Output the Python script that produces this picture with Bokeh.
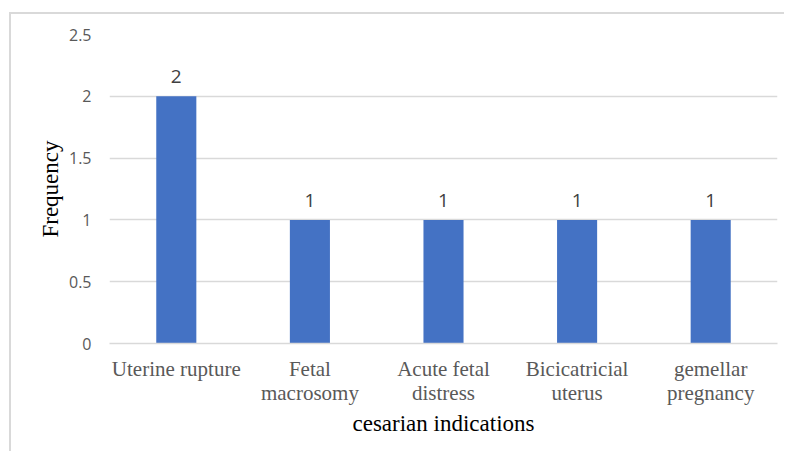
from bokeh.plotting import figure
from bokeh.models import ColumnDataSource, FactorRange, Range1d, FixedTicker
from bokeh.core.properties import value
from bokeh.embed import file_html
from bokeh.resources import INLINE

categories = ["Uterine rupture", "Fetal\nmacrosomy", "Acute fetal\ndistress",
              "Bicicatricial\nuterus", "gemellar\npregnancy"]
frequency = [2, 1, 1, 1, 1]
value_labels = ["2", "1", "1", "1", "1"]
y_ticks = [0, 0.5, 1, 1.5, 2, 2.5]
y_tick_labels = ["0", "0.5", "1", "1.5", "2", "2.5"]

src = ColumnDataSource(dict(cat=categories, freq=frequency, lab=value_labels))

p = figure(width=775, height=439, x_range=FactorRange(*categories, range_padding=0),
           y_range=Range1d(0, 2.5), output_backend="svg", toolbar_location=None,
           min_border_left=98, min_border_right=9, min_border_top=20, min_border_bottom=110,
           styles={"margin-left": "9px", "margin-top": "12px",
                   "border-left": "2px solid #d9d9d9", "border-top": "2px solid #d9d9d9"})
p.outline_line_color = None
p.background_fill_color = "white"
p.border_fill_color = "white"

p.vbar(x="cat", top="freq", width=0.3, source=src, fill_color="#4472C4", line_color=None)
p.text(x="cat", y="freq", text="lab", source=src, text_align="center", text_baseline="bottom",
       y_offset=-13, text_font=value("Open Sans"), text_font_size="19px", text_color="#404040")

p.xgrid.grid_line_color = None
p.ygrid.grid_line_color = "#d9d9d9"
p.ygrid.grid_line_width = 1.3
p.yaxis.ticker = FixedTicker(ticks=y_ticks)
p.yaxis.major_label_overrides = dict(zip(y_ticks, y_tick_labels))
p.yaxis.axis_line_color = None
p.yaxis.major_tick_line_color = None
p.yaxis.minor_tick_line_color = None
p.yaxis.major_tick_out = 0
p.yaxis.major_tick_in = 0
p.yaxis.minor_tick_out = 0
p.yaxis.major_label_standoff = 18
p.yaxis.major_label_text_font = "Open Sans"
p.yaxis.major_label_text_font_size = "16px"
p.yaxis.major_label_text_color = "#595959"
p.yaxis.axis_label = "Frequency"
p.yaxis.axis_label_text_font = "Liberation Serif"
p.yaxis.axis_label_text_font_size = "23px"
p.yaxis.axis_label_text_font_style = "normal"
p.yaxis.axis_label_text_color = "black"
p.yaxis.axis_label_standoff = 3

p.xaxis.axis_line_color = "#d9d9d9"
p.xaxis.axis_line_width = 1.3
p.xaxis.major_tick_line_color = None
p.xaxis.minor_tick_line_color = None
p.xaxis.major_tick_out = 0
p.xaxis.major_tick_in = 0
p.xaxis.minor_tick_out = 0
p.xaxis.major_label_standoff = 13
p.xaxis.major_label_text_font = "Liberation Serif"
p.xaxis.major_label_text_font_size = "21px"
p.xaxis.major_label_text_line_height = 1.0
p.xaxis.major_label_text_color = "#595959"
p.xaxis.axis_label = "cesarian indications"
p.xaxis.axis_label_text_font = "Liberation Serif"
p.xaxis.axis_label_text_font_size = "23px"
p.xaxis.axis_label_text_font_style = "normal"
p.xaxis.axis_label_text_color = "black"
p.xaxis.axis_label_standoff = 3

open("out.html", "w").write(file_html(p, INLINE))
